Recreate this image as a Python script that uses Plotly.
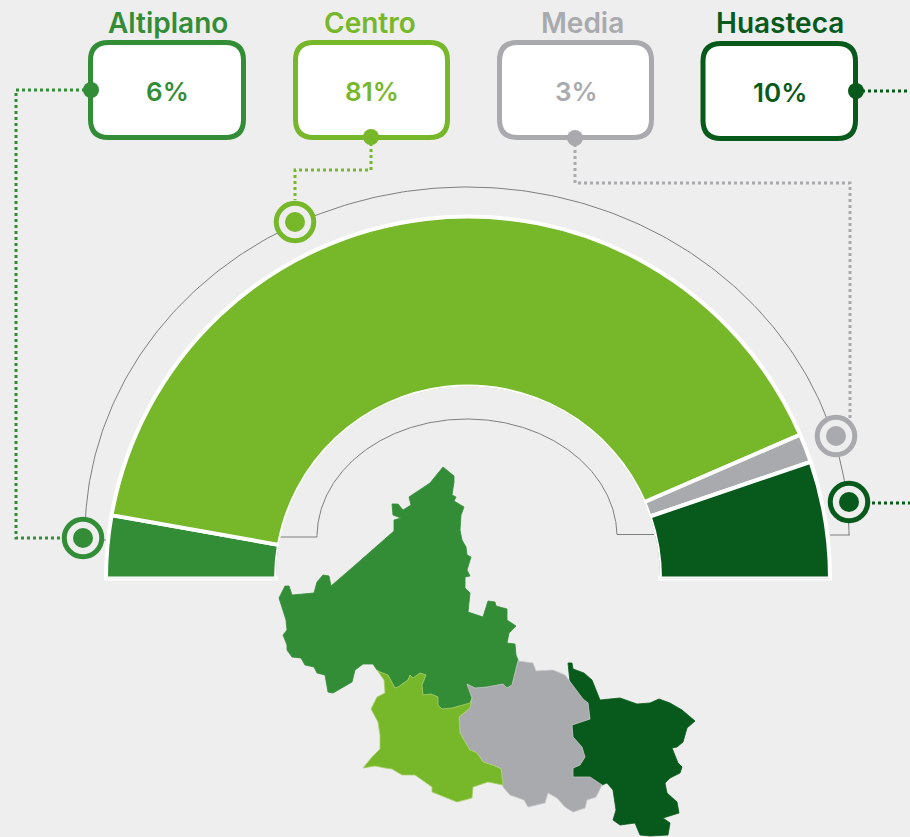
import numpy as np
import plotly.graph_objects as go

W, H = 910, 837
BG = "#eeeeee"
FONT = "Inter"

regions = ["Altiplano", "Centro", "Media", "Huasteca"]
shares = [6, 81, 3, 10]
# arc sizes (labels above are the printed ones)
arc_sizes = [5.6, 81.4, 2.55, 10.45]
colors = ["#338d37", "#77b72a", "#a9aaad", "#085a1c"]

# cards (left, right, top, bottom), centre-line of the border, page pixels
cards = [(90.5, 243.5, 42.5, 137.5), (295.5, 447.5, 42.5, 137.5),
         (499.5, 651.5, 42.5, 137.5), (703, 855.5, 43.5, 138.5)]
title_x = [168, 369.5, 582, 779.5]
card_dots = [(91, 90), (371, 137), (575, 138), (856, 91)]
targets = [(83, 538), (295, 222), (836, 436), (849, 502)]
connectors = [
    [(91, 90), (16, 90), (16, 538), (62, 538)],
    [(371, 137), (371, 170), (295, 170), (295, 200)],
    [(575, 138), (575, 183), (850, 183), (850, 418)],
    [(856, 91), (910, 91)],
    [(872, 503), (910, 503)],
]

altiplano_map = [(443,467),(454,476),(454,482),(452,495),(456,497),(454,501),(464,507),(461,515),(460,530),
    (462,540),(466,547),(467,555),(471,557),(467,570),(470,576),(465,577),(465,588),(470,593),(468,612),
    (483,617),(488,601),(495,602),(496,606),(507,609),(507,620),(516,626),(509,633),(507,643),(515,644),
    (516,655),(518,660),(512,685),(507,688),(503,684),(487,687),(475,688),(467,684),(472,698),(470,703),
    (463,705),(452,708),(442,709),(438,705),(438,697),(431,694),(423,695),(422,685),(426,675),(420,673),
    (413,678),(410,675),(408,680),(398,687),(395,688),(388,675),(380,672),(377,670),(373,664),(363,664),
    (355,670),(352,682),(333,693),(328,692),(325,675),(317,673),(314,667),(305,665),(301,658),(292,657),
    (287,650),(287,645),(283,635),(287,630),(286,620),(283,610),(279,598),(285,586),(289,586),(292,595),
    (314,593),(317,582),(323,575),(329,576),(331,586),(353,567),(380,543),(394,531),(394,520),(401,518),
    (393,515),(392,504),(398,504),(403,510),(411,505),(409,497),(430,483)]
centro_map = [(377,670),(380,672),(388,675),(395,688),(398,687),(408,680),(410,675),(413,678),(420,673),
    (426,675),(422,685),(423,695),(431,694),(438,697),(438,705),(442,709),(452,708),(463,705),(470,703),
    (472,698),(470,708),(459,717),(460,733),(465,742),(470,750),(477,753),(483,762),(495,766),(501,769),
    (503,785),(488,782),(473,787),(472,798),(457,802),(445,797),(432,792),(432,787),(425,782),(415,775),
    (402,775),(392,769),(385,768),(375,766),(363,768),(372,757),(380,749),(380,735),(378,722),(371,709),
    (377,697),(385,693),(384,680)]
media_map = [(518,661),(533,663),(536,671),(553,670),(565,675),(570,682),(583,699),(588,703),(590,719),
    (572,725),(573,737),(582,747),(585,757),(580,765),(573,768),(573,777),(590,777),(602,785),(596,797),
    (587,800),(585,808),(573,812),(565,807),(557,798),(548,793),(545,803),(528,807),(524,800),(510,795),
    (503,787),(501,769),(495,766),(483,762),(477,753),(470,750),(465,742),(460,733),(459,717),(470,708),
    (472,698),(467,684),(475,688),(487,687),(503,684),(507,688),(512,685)]
huasteca_map = [(568,663),(572,663),(573,669),(584,673),(592,680),(600,700),(620,698),(637,704),(650,703),
    (659,699),(670,703),(682,710),(695,721),(687,728),(683,742),(677,747),(672,748),(678,763),(682,767),
    (680,773),(670,778),(665,783),(667,793),(677,802),(679,813),(663,818),(670,823),(668,835),(650,836),
    (640,835),(635,823),(620,825),(613,820),(616,810),(613,790),(607,783),(602,785),(590,777),(573,777),
    (573,768),(580,765),(585,757),(582,747),(573,737),(572,725),(590,719),(588,703),(583,699),(570,682)]
region_maps = [altiplano_map, centro_map, media_map, huasteca_map]

# semicircle geometry, page pixels
CX, CY, R, R_IN, R_PLOT = 468, 578.5, 362, 192, 374

fig = go.Figure()

GUIDE = dict(color="#7f7f7f", width=1)
# guide arcs (decoration: elliptical outlines behind the semicircle)
t = np.linspace(np.pi, 0, 241)
fig.add_trace(go.Scatter(
    x=[107, 85] + list(467 + 382 * np.cos(t)) + [849.5, 830],
    y=[540, 540] + list(535 - 348 * np.sin(t)) + [535, 535],
    mode="lines", line=GUIDE, hoverinfo="skip"))
inner_x = 467 + 150 * np.cos(t)
inner_y = 537 - 118 * np.sin(t)
keep = (inner_x < 467) | (inner_y <= 534.5)
fig.add_trace(go.Scatter(
    x=[280] + list(inner_x[keep]) + [617, 654],
    y=[537] + list(inner_y[keep]) + [534.5, 534.5],
    mode="lines", line=GUIDE, hoverinfo="skip"))

# white base of the semicircle
fig.add_trace(go.Scatter(x=[CX - R - 2, CX - R_IN + 2, None, CX + R_IN - 2, CX + R + 2],
                         y=[CY, CY, None, CY, CY], mode="lines",
                         line=dict(color="white", width=4), hoverinfo="skip"))

# connectors
for c, col in zip(connectors, [colors[0], colors[1], colors[2], colors[3], colors[3]]):
    fig.add_trace(go.Scatter(x=[p[0] for p in c], y=[p[1] for p in c], mode="lines",
                             line=dict(color=col, width=3, dash="3px 3px"), hoverinfo="skip"))

# map
edge = {"Altiplano": colors[0], "Centro": "#a9cf6e", "Media": "#c4c5c7", "Huasteca": colors[3]}
for i in [0, 3, 2, 1]:
    poly = region_maps[i]
    fig.add_trace(go.Scatter(x=[p[0] for p in poly] + [poly[0][0]], y=[p[1] for p in poly] + [poly[0][1]],
                             mode="lines", fill="toself", fillcolor=colors[i],
                             line=dict(color=edge[regions[i]], width=0.8), name=regions[i], hoverinfo="name"))

# targets
for (x, y), col in zip(targets, colors):
    fig.add_trace(go.Scatter(x=[x], y=[y], mode="markers", hoverinfo="skip",
                             marker=dict(size=37.5, color=BG, line=dict(color=col, width=5))))
    fig.add_trace(go.Scatter(x=[x], y=[y], mode="markers", hoverinfo="skip",
                             marker=dict(size=20, color=col)))

# half-donut
starts = np.cumsum([0] + arc_sizes[:-1])
fig.add_trace(go.Barpolar(
    theta=[(s + v / 2) * 1.8 for s, v in zip(starts, arc_sizes)],
    width=[v * 1.8 for v in arc_sizes],
    r=[1, 1, 1, 1],
    marker=dict(color=colors, line=dict(color="white", width=4)),
    text=regions, hoverinfo="text", subplot="polar"))

shapes = []
annotations = []
for (l, r, t_, b), col, name, v, tx in zip(cards, colors, regions, shares, title_x):
    q = 18
    shapes.append(dict(
        type="path", xref="x", yref="y", layer="above",
        path=f"M{l+q},{t_} L{r-q},{t_} Q{r},{t_} {r},{t_+q} L{r},{b-q} Q{r},{b} {r-q},{b} "
             f"L{l+q},{b} Q{l},{b} {l},{b-q} L{l},{t_+q} Q{l},{t_} {l+q},{t_} Z",
        fillcolor="white", line=dict(color=col, width=5)))
    mid = (l + r) / 2
    annotations.append(dict(x=tx, y=23, xref="x", yref="y", text=name, showarrow=False,
                            font=dict(family=FONT, size=28, color=col, weight=600)))
    annotations.append(dict(x=mid + 0.5, y=(t_ + b) / 2 + 1, xref="x", yref="y", text=f"{v}%", showarrow=False,
                            font=dict(family=FONT, size=26, color=col, weight=600)))
for (x, y), col in zip(card_dots, colors):
    shapes.append(dict(type="circle", xref="x", yref="y", layer="above",
                       x0=x - 8, x1=x + 8, y0=y - 8, y1=y + 8, fillcolor=col, line=dict(width=0)))

fig.update_layout(
    width=W, height=H, margin=dict(l=0, r=0, t=0, b=0),
    paper_bgcolor=BG, plot_bgcolor=BG, showlegend=False,
    xaxis=dict(range=[0, W], visible=False, domain=[0, 1], fixedrange=True),
    yaxis=dict(range=[H, 0], visible=False, domain=[0, 1], fixedrange=True),
    polar=dict(
        domain=dict(x=[(CX - R_PLOT) / W, (CX + R_PLOT) / W], y=[(H - CY) / H, (H - CY + R_PLOT) / H]),
        sector=[0, 180], hole=R_IN / R_PLOT, bgcolor="rgba(0,0,0,0)", barmode="overlay",
        radialaxis=dict(range=[0, (R_PLOT - R_IN) / (R - R_IN)], visible=False),
        angularaxis=dict(visible=False, rotation=180, direction="clockwise"),
    ),
    shapes=shapes, annotations=annotations,
)
fig.write_html("out.html", config=dict(displayModeBar=False),
               post_script="document.body.style.margin='0';document.body.style.overflow='hidden';")
